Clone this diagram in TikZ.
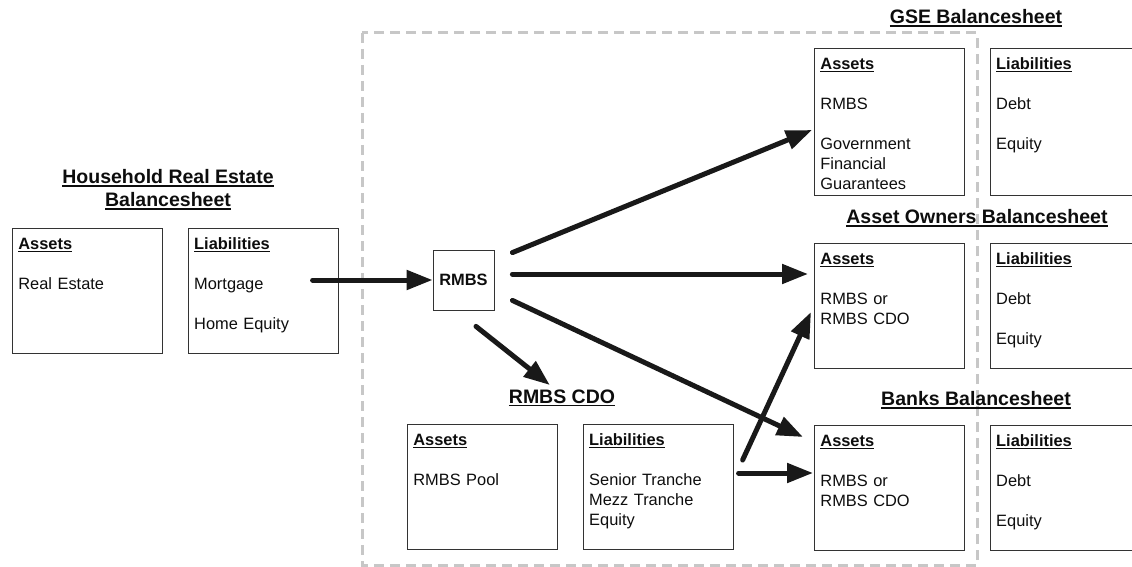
\documentclass[tikz,border=0pt]{standalone}
\usepackage{fontspec}
\setmainfont{Liberation Sans}
\usetikzlibrary{arrows.meta,positioning,calc}

\newcommand{\ulbf}[1]{\setbox0\hbox{\bfseries #1}\rlap{\rule[-0.17em]{\wd0}{0.09em}}\box0}

\begin{document}
\begin{tikzpicture}[x=1pt, y=-1pt]
\tikzstyle{sheet} = [rectangle, draw=black!80, line width=0.8pt, text width=138pt, inner sep=6pt, text height=15pt, text depth=98pt, align=left, anchor=north west, font=\fontsize{16.4}{20}\selectfont, text=black!95]
\tikzstyle{pool} = [rectangle, draw=black!80, line width=0.8pt, minimum width=61pt, minimum height=60pt, font=\fontsize{16.4}{20}\selectfont\bfseries, text=black!95]
\tikzstyle{title} = [align=center, font=\fontsize{19.5}{23}\selectfont, text=black!95]
\tikzstyle{thickarrow} = [draw=black!90, -{Triangle[length=26pt,width=19pt]}, line width=5pt, line cap=round]
\tikzstyle{dashbox} = [draw=black!22, line width=3pt, dash pattern=on 10pt off 6pt]

\useasboundingbox (0,0) rectangle (1132,567);
\clip (0,0) rectangle (1132,567);

% Securitisation boundary
\draw [dashbox] (362,33) rectangle (977,565);

% Household balancesheet
\node [title] (hhTitle) at (168,189.5) {\ulbf{Household Real Estate}\\\ulbf{Balancesheet}};
\node [sheet] (hhAssets) at (12,228) {\ulbf{Assets}\\[20pt]Real Estate};
\node [sheet, anchor=west, right=25pt of hhAssets] (hhLiab) {\ulbf{Liabilities}\\[20pt]Mortgage\\[20pt]Home Equity};

% The pool
\node [pool] (rmbs) at (463.5,280) {RMBS};

% RMBS CDO
\node [title] (cdoTitle) at (562,398) {\ulbf{RMBS CDO}};
\node [sheet] (cdoAssets) at (407,424) {\ulbf{Assets}\\[20pt]RMBS Pool};
\node [sheet, anchor=west, right=25pt of cdoAssets] (cdoLiab) {\ulbf{Liabilities}\\[20pt]Senior Tranche\\Mezz Tranche\\Equity};

% Holders on the right
\node [title] (gseTitle) at (976,18) {\ulbf{GSE Balancesheet}};
\node [sheet, text depth=120pt] (gseAssets) at (814,48) {\ulbf{Assets}\\[20pt]RMBS\\[20pt]Government\\Financial\\Guarantees};
\node [sheet, text depth=120pt, anchor=west, right=25pt of gseAssets] (gseLiab) {\ulbf{Liabilities}\\[20pt]Debt\\[20pt]Equity};

\node [title] (ownTitle) at (977,218) {\ulbf{Asset Owners Balancesheet}};
\node [sheet] (ownAssets) at (814,243) {\ulbf{Assets}\\[20pt]RMBS or\\RMBS CDO};
\node [sheet, anchor=west, right=25pt of ownAssets] (ownLiab) {\ulbf{Liabilities}\\[20pt]Debt\\[20pt]Equity};

\node [title] (bankTitle) at (976,400) {\ulbf{Banks Balancesheet}};
\node [sheet] (bankAssets) at (814,425) {\ulbf{Assets}\\[20pt]RMBS or\\RMBS CDO};
\node [sheet, anchor=west, right=25pt of bankAssets] (bankLiab) {\ulbf{Liabilities}\\[20pt]Debt\\[20pt]Equity};

% Connections
\draw [thickarrow] ([xshift=-26pt]hhLiab.east |- rmbs.west) -- (rmbs.west);
\draw [thickarrow] ($(rmbs.north east)+(18,3)$) -- ($(gseAssets.north west)+(-2,82)$);
\draw [thickarrow] ($(rmbs.east)+(18,-6)$) -- ($(ownAssets.north west)+(-6,31)$);
\draw [thickarrow] ($(rmbs.south east)+(18,-10)$) -- ($(bankAssets.north west)+(-11,12)$);
\draw [thickarrow] ($(rmbs.south)+(12.5,16)$) -- ($(cdoAssets.north east)+(-8,-39)$);
\draw [thickarrow] ($(cdoLiab.north east)+(9,36)$) -- ($(ownAssets.north west)+(-3,69)$);
\draw [thickarrow] ($(cdoLiab.north east)+(5,49)$) -- ($(bankAssets.north west)+(-1,48)$);

\end{tikzpicture}
\end{document}
